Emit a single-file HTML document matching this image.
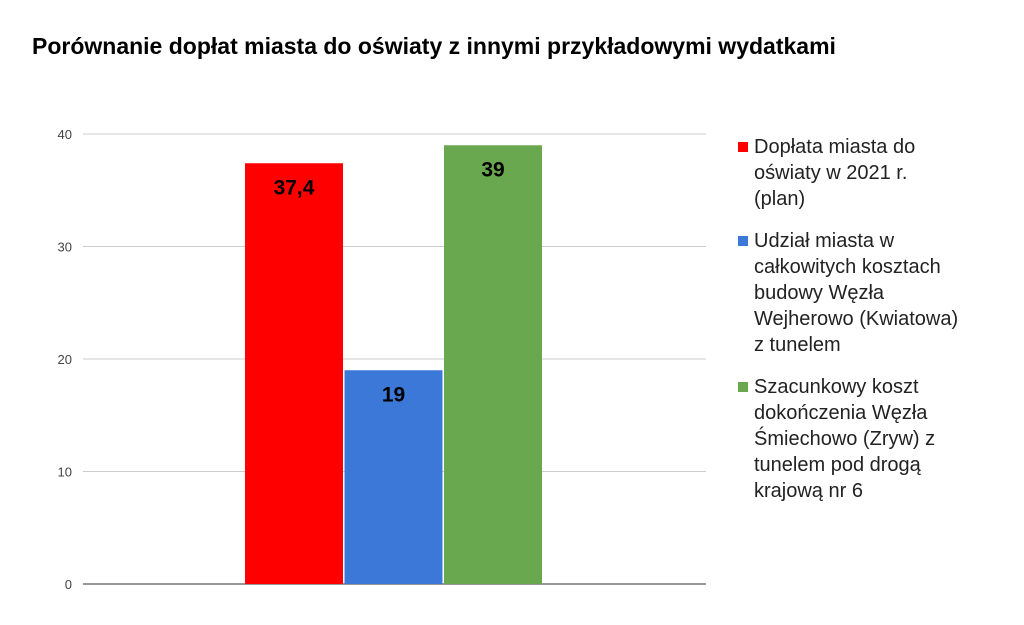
<!DOCTYPE html>
<html><head><meta charset="utf-8"><style>
body{margin:0;background:#fff;font-family:"Liberation Sans",Arial,sans-serif;}
#wrap{position:relative;width:1024px;height:625px;overflow:hidden;}
.leg{position:absolute;left:754px;font-size:20px;line-height:26px;color:#222;width:260px;}
.sw{position:absolute;left:738px;width:10px;height:10px;}
</style></head><body>
<div id="wrap">
<div style="position:absolute;left:32px;top:33px;font-size:23px;font-weight:bold;color:#000;">Porównanie dopłat miasta do oświaty z innymi przykładowymi wydatkami</div>
<svg id="plot" width="1024" height="625" style="position:absolute;left:0;top:0"></svg>
<div class="sw" style="top:142px;background:#ff0000"></div>
<div class="leg" style="top:134px">Dopłata miasta do<br>oświaty w 2021 r.<br>(plan)</div>
<div class="sw" style="top:236px;background:#3c78d8"></div>
<div class="leg" style="top:228px">Udział miasta w<br>całkowitych kosztach<br>budowy Węzła<br>Wejherowo (Kwiatowa)<br>z tunelem</div>
<div class="sw" style="top:382px;background:#6aa84f"></div>
<div class="leg" style="top:374px">Szacunkowy koszt<br>dokończenia Węzła<br>Śmiechowo (Zryw) z<br>tunelem pod drogą<br>krajową nr 6</div>
</div>
<script>
const categories=["Dopłata miasta do oświaty w 2021 r. (plan)","Udział miasta Węzeł Wejherowo","Szacunkowy koszt Węzeł Śmiechowo"];
const values=[37.4,19,39];
const valueLabels=["37,4","19","39"];
const colors=["#ff0000","#3c78d8","#6aa84f"];
const ticks=[0,10,20,30,40];
const NS="http://www.w3.org/2000/svg";
const svg=document.getElementById('plot');
const x0=83,x1=706,yBase=584,yTop=134,vmax=40;
const y=v=>yBase-(v/vmax)*(yBase-yTop);
const barX=i=>245+i*99.5, barW=98;
function mk(t,a){const e=document.createElementNS(NS,t);for(const k in a)e.setAttribute(k,a[k]);svg.appendChild(e);return e;}
ticks.forEach(t=>{
 const l=mk('line',{x1:x0,x2:x1,y1:y(t),y2:y(t),stroke:t===0?'#333':'#ccc','stroke-width':1});
 
 
 const tx=mk('text',{x:72,y:y(t)+5,'text-anchor':'end','font-size':13,fill:'#444','font-family':'Liberation Sans'});
 tx.textContent=t;
 
 
});
values.forEach((v,i)=>{
 const r=mk('rect',{x:barX(i),y:y(v),width:barW,height:yBase-y(v),fill:colors[i]});
 
 
 const t=mk('text',{x:barX(i)+barW/2,y:y(v)+31,'text-anchor':'middle','font-size':21,'font-weight':'bold',fill:'#000','font-family':'Liberation Sans'});
 t.textContent=valueLabels[i];
 
 
});
</script>
</body></html>
